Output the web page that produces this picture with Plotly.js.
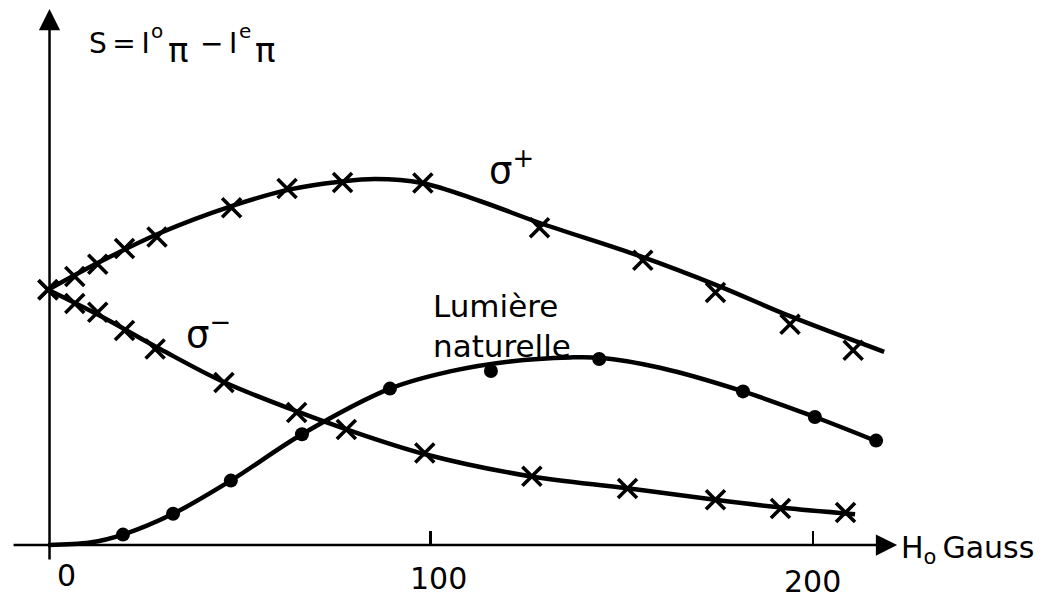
<!DOCTYPE html>
<html>
<head>
<meta charset="utf-8">
<script src="https://cdn.plot.ly/plotly-3.0.1.min.js"></script>
<style>
  html, body { margin: 0; padding: 0; background: #ffffff; }
  #chart { width: 1048px; height: 601px; }
</style>
</head>
<body>
<div id="chart"></div>
<script>
// ---- Data (H in gauss, S in arbitrary units) ----
const sigmaPlusX = [0, 7, 13, 20, 28.5, 48, 62.5, 77, 98, 128.5, 155.5, 174.5, 194, 210.5];
const sigmaPlusY = [6.38, 6.71, 7.02, 7.41, 7.70, 8.43, 8.91, 9.06, 9.05, 7.93, 7.12, 6.31, 5.52, 4.87];
const sigmaPlusCurveX = [0, 13.6, 29.3, 47.6, 63.3, 76.3, 85.5, 97.8, 112.9, 128.6, 154.8, 175.7, 194, 218.6];
const sigmaPlusCurveY = [6.38, 7.08, 7.80, 8.46, 8.89, 9.08, 9.15, 9.05, 8.60, 8.05, 7.22, 6.46, 5.72, 4.83];

const sigmaMinusX = [0, 7, 13, 20, 28, 46, 65, 78, 98.5, 126.5, 151.5, 174.5, 191.5, 208.5];
const sigmaMinusY = [6.38, 6.04, 5.82, 5.36, 4.90, 4.06, 3.31, 2.89, 2.30, 1.72, 1.41, 1.13, 0.91, 0.81];
const sigmaMinusCurveX = [0, 13.6, 29.3, 45.8, 65.1, 79, 98.6, 126, 151.4, 174.4, 191.4, 211];
const sigmaMinusCurveY = [6.38, 5.73, 4.90, 4.08, 3.34, 2.86, 2.27, 1.72, 1.42, 1.13, 0.94, 0.77];

const naturalX = [19.6, 32.7, 47.8, 66.4, 89.4, 115.8, 144.1, 181.7, 200.5, 216.5];
const naturalY = [0.26, 0.78, 1.61, 2.77, 3.91, 4.35, 4.65, 3.84, 3.20, 2.61];
const naturalCurveX = [0, 11, 19.6, 32.7, 47.8, 66.4, 89.4, 105.1, 120.8, 136.5, 144.3, 160, 181.7, 200.5, 217.5];
const naturalCurveY = [0, 0.06, 0.26, 0.78, 1.61, 2.77, 3.91, 4.34, 4.59, 4.69, 4.68, 4.43, 3.84, 3.20, 2.56];

const xTickVals = [100, 200];
const xTickLabels = ["0", "100", "200"];
// y-axis title "S = I°π − Iᵉπ" in pieces (hand-lettered super/subscripts)
const yTitleParts = ["S\u2009=\u2009I", "o", "π", "−\u2009I", "e", "π"];
const xTitle = "H<sub>o</sub>\u2009Gauss";
const labelSigmaPlus = "σ<sup>+</sup>";
const labelSigmaMinus = "σ<sup>−</sup>";
const labelNatural = "Lumière<br>naturelle";

// ---- Styling ----
const FONT = "DejaVu Sans, Liberation Sans, sans-serif";
const INK = "#000000";
const W = 1048, H = 601;
const px2fx = p => p / W;
const py2fy = p => 1 - p / H;

const curveLine = { color: INK, width: 4.5, shape: "spline", smoothing: 1 };
const crossMarker = { symbol: "x-thin", size: 19, color: INK, line: { color: INK, width: 3.6 } };
const dotMarker = { symbol: "circle", size: 14, color: INK };

const traces = [
  { x: sigmaPlusCurveX, y: sigmaPlusCurveY, mode: "lines", line: curveLine, hoverinfo: "skip" },
  { x: sigmaMinusCurveX, y: sigmaMinusCurveY, mode: "lines", line: curveLine, hoverinfo: "skip" },
  { x: naturalCurveX, y: naturalCurveY, mode: "lines", line: curveLine, hoverinfo: "skip" },
  { x: sigmaPlusX, y: sigmaPlusY, mode: "markers", marker: crossMarker, name: "σ+" },
  { x: sigmaMinusX, y: sigmaMinusY, mode: "markers", marker: crossMarker, name: "σ−" },
  { x: naturalX, y: naturalY, mode: "markers", marker: dotMarker, name: "Lumière naturelle" }
];

const textAnn = (text, pxX, pxY, size, xanchor) => ({
  text: text, xref: "paper", yref: "paper", x: px2fx(pxX), y: py2fy(pxY),
  xanchor: xanchor || "left", yanchor: "middle", align: "left", showarrow: false,
  font: { family: FONT, size: size, color: INK }, borderpad: 0
});

const annotations = [
  // axes drawn as arrows
  { xref: "x", yref: "y", axref: "x", ayref: "y", x: 222, y: 0, ax: -9.4, ay: 0,
    text: "", showarrow: true, arrowhead: 2, arrowsize: 1.7, arrowwidth: 2.5, arrowcolor: INK },
  { xref: "x", yref: "y", axref: "x", ayref: "y", x: 0.4, y: 13.4, ax: 0.4, ay: -0.4,
    text: "", showarrow: true, arrowhead: 2, arrowsize: 1.7, arrowwidth: 2.5, arrowcolor: INK },
  // y-axis title pieces
  textAnn(yTitleParts[0], 88, 43, 28),
  textAnn(yTitleParts[1], 150, 31, 20),
  textAnn(yTitleParts[2], 167, 50, 34),
  textAnn(yTitleParts[3], 199, 43, 28),
  textAnn(yTitleParts[4], 238, 31, 20),
  textAnn(yTitleParts[5], 254, 50, 34),
  // x-axis title
  textAnn(xTitle, 900, 549, 30),
  // tick labels
  textAnn(xTickLabels[0], 66, 575, 30, "center"),
  textAnn(xTickLabels[1], 438, 578, 30, "center"),
  textAnn(xTickLabels[2], 812, 581, 30, "center"),
  // curve labels
  textAnn(labelSigmaPlus, 488, 168, 37),
  textAnn(labelSigmaMinus, 185, 331, 37),
  textAnn(labelNatural, 432, 326, 31)
];

const layout = {
  width: W, height: H,
  margin: { l: 0, r: 0, t: 0, b: 0, pad: 0 },
  paper_bgcolor: "#ffffff", plot_bgcolor: "#ffffff",
  showlegend: false,
  xaxis: {
    range: [-12.55, 261.44], showgrid: false, zeroline: false, showline: false,
    tickvals: xTickVals, ticks: "inside", ticklen: 14, tickwidth: 2.5, tickcolor: INK,
    showticklabels: false, anchor: "free", position: (H - 545) / H, fixedrange: true
  },
  yaxis: {
    range: [-1.4, 13.625], showgrid: false, zeroline: false, showline: false,
    showticklabels: false, ticks: "", fixedrange: true
  },
  annotations: annotations
};

Plotly.newPlot("chart", traces, layout, { staticPlot: true, displayModeBar: false });
</script>
</body>
</html>
